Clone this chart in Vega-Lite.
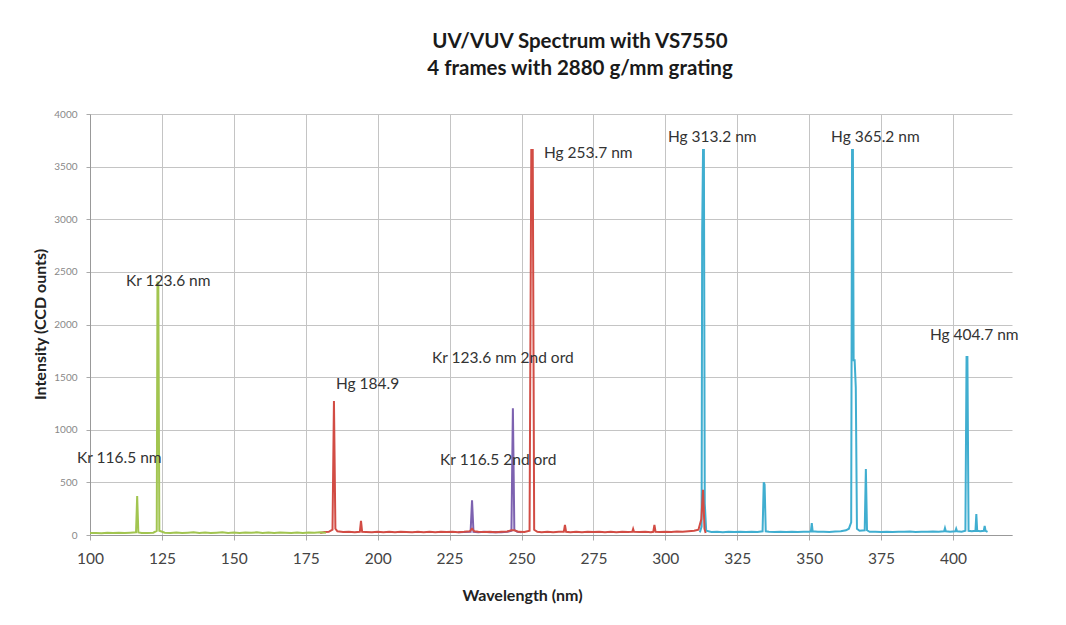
{
  "$schema": "https://vega.github.io/schema/vega-lite/v6.json",
  "width": 922,
  "height": 421,
  "autosize": {"type": "none"},
  "padding": {"left": 90, "top": 114, "right": 54, "bottom": 90},
  "background": "white",
  "config": {"view": {"stroke": null}, "font": "Lato"},
  "title": {
    "text": ["UV/VUV Spectrum with VS7550", "4 frames with 2880 g/mm grating"],
    "fontSize": 20.5, "fontWeight": "bold", "color": "#1a1a1a", "lineHeight": 27,
    "anchor": "middle", "dx": 29, "offset": 30, "font": "Lato"
  },
  "datasets": {
    "spec": [
      {"s":"A","x":100,"y":18},{"s":"A","x":102,"y":20},{"s":"A","x":104,"y":17},{"s":"A","x":106,"y":22},{"s":"A","x":108,"y":19},{"s":"A","x":110,"y":21},{"s":"A","x":112,"y":18},{"s":"A","x":114,"y":22},{"s":"A","x":116.0,"y":25},{"s":"A","x":116.4,"y":370},{"s":"A","x":116.8,"y":25},{"s":"A","x":118,"y":20},{"s":"A","x":120,"y":19},{"s":"A","x":122,"y":22},{"s":"A","x":123.2,"y":40},{"s":"A","x":123.45,"y":2400},{"s":"A","x":123.75,"y":2400},{"s":"A","x":124.1,"y":40},{"s":"A","x":126,"y":22},{"s":"A","x":128,"y":20},{"s":"A","x":130,"y":24},{"s":"A","x":132,"y":19},{"s":"A","x":134,"y":22},{"s":"A","x":136,"y":25},{"s":"A","x":138,"y":20},{"s":"A","x":140,"y":23},{"s":"A","x":142,"y":19},{"s":"A","x":144,"y":22},{"s":"A","x":146,"y":26},{"s":"A","x":148,"y":20},{"s":"A","x":150,"y":23},{"s":"A","x":152,"y":19},{"s":"A","x":154,"y":24},{"s":"A","x":156,"y":21},{"s":"A","x":158,"y":25},{"s":"A","x":160,"y":20},{"s":"A","x":162,"y":23},{"s":"A","x":164,"y":19},{"s":"A","x":166,"y":24},{"s":"A","x":168,"y":21},{"s":"A","x":170,"y":18},{"s":"A","x":172,"y":23},{"s":"A","x":174,"y":20},{"s":"A","x":176,"y":24},{"s":"A","x":178,"y":21},{"s":"A","x":180,"y":25},{"s":"A","x":182,"y":22},
      {"s":"B","x":180,"y":20},{"s":"B","x":181.5,"y":28},{"s":"B","x":183,"y":30},{"s":"B","x":184.3,"y":50},{"s":"B","x":184.8,"y":1273},{"s":"B","x":185.3,"y":60},{"s":"B","x":186,"y":35},{"s":"B","x":188,"y":28},{"s":"B","x":190,"y":30},{"s":"B","x":192,"y":26},{"s":"B","x":193.8,"y":30},{"s":"B","x":194.2,"y":135},{"s":"B","x":194.6,"y":30},{"s":"B","x":196,"y":28},{"s":"B","x":198,"y":25},{"s":"B","x":200,"y":30},{"s":"B","x":202,"y":27},{"s":"B","x":204,"y":32},{"s":"B","x":206,"y":26},{"s":"B","x":208,"y":30},{"s":"B","x":210,"y":28},{"s":"B","x":212,"y":25},{"s":"B","x":214,"y":30},{"s":"B","x":216,"y":27},{"s":"B","x":218,"y":31},{"s":"B","x":220,"y":26},{"s":"B","x":222,"y":30},{"s":"B","x":224,"y":28},{"s":"B","x":226,"y":32},{"s":"B","x":228,"y":27},{"s":"B","x":230,"y":30},{"s":"B","x":232,"y":35},{"s":"B","x":232.8,"y":60},{"s":"B","x":233.6,"y":35},{"s":"B","x":235,"y":30},{"s":"B","x":237,"y":28},{"s":"B","x":239,"y":31},{"s":"B","x":241,"y":27},{"s":"B","x":243,"y":30},{"s":"B","x":245,"y":33},{"s":"B","x":246.5,"y":45},{"s":"B","x":247.5,"y":45},{"s":"B","x":249,"y":30},{"s":"B","x":251,"y":28},{"s":"B","x":252.8,"y":40},{"s":"B","x":253.4,"y":3657},{"s":"B","x":253.9,"y":3657},{"s":"B","x":254.4,"y":50},{"s":"B","x":255.5,"y":30},{"s":"B","x":257,"y":27},{"s":"B","x":259,"y":30},{"s":"B","x":261,"y":26},{"s":"B","x":263,"y":30},{"s":"B","x":264.7,"y":30},{"s":"B","x":265.1,"y":95},{"s":"B","x":265.5,"y":30},{"s":"B","x":267,"y":27},{"s":"B","x":269,"y":31},{"s":"B","x":271,"y":26},{"s":"B","x":273,"y":30},{"s":"B","x":275,"y":28},{"s":"B","x":277,"y":32},{"s":"B","x":279,"y":27},{"s":"B","x":281,"y":30},{"s":"B","x":283,"y":26},{"s":"B","x":285,"y":31},{"s":"B","x":287,"y":28},{"s":"B","x":288.5,"y":30},{"s":"B","x":288.8,"y":57},{"s":"B","x":289.1,"y":30},{"s":"B","x":291,"y":28},{"s":"B","x":293,"y":31},{"s":"B","x":295,"y":27},{"s":"B","x":295.8,"y":30},{"s":"B","x":296.2,"y":95},{"s":"B","x":296.6,"y":30},{"s":"B","x":298,"y":28},{"s":"B","x":300,"y":32},{"s":"B","x":302,"y":29},{"s":"B","x":304,"y":33},{"s":"B","x":306,"y":30},{"s":"B","x":308,"y":35},{"s":"B","x":310,"y":40},{"s":"B","x":311.5,"y":50},{"s":"B","x":312.5,"y":150},{"s":"B","x":313.1,"y":430},{"s":"B","x":313.6,"y":60},{"s":"B","x":314,"y":20},
      {"s":"C","x":228,"y":25},{"s":"C","x":230,"y":28},{"s":"C","x":232.3,"y":30},{"s":"C","x":232.8,"y":330},{"s":"C","x":233.3,"y":30},{"s":"C","x":235,"y":27},{"s":"C","x":237,"y":30},{"s":"C","x":239,"y":26},{"s":"C","x":241,"y":29},{"s":"C","x":243,"y":27},{"s":"C","x":245,"y":30},{"s":"C","x":246.5,"y":40},{"s":"C","x":247.0,"y":1205},{"s":"C","x":247.5,"y":50},{"s":"C","x":248.5,"y":30},{"s":"C","x":250,"y":27},
      {"s":"D","x":312,"y":25},{"s":"D","x":312.6,"y":80},{"s":"D","x":312.8,"y":2880},{"s":"D","x":313.1,"y":3657},{"s":"D","x":313.4,"y":3657},{"s":"D","x":313.7,"y":300},{"s":"D","x":314.2,"y":40},{"s":"D","x":316,"y":28},{"s":"D","x":318,"y":30},{"s":"D","x":320,"y":27},{"s":"D","x":322,"y":31},{"s":"D","x":324,"y":28},{"s":"D","x":326,"y":32},{"s":"D","x":328,"y":29},{"s":"D","x":330,"y":30},{"s":"D","x":332,"y":28},{"s":"D","x":333.8,"y":35},{"s":"D","x":334.2,"y":500},{"s":"D","x":334.5,"y":480},{"s":"D","x":334.9,"y":35},{"s":"D","x":336,"y":30},{"s":"D","x":338,"y":28},{"s":"D","x":340,"y":32},{"s":"D","x":342,"y":29},{"s":"D","x":344,"y":31},{"s":"D","x":346,"y":28},{"s":"D","x":348,"y":30},{"s":"D","x":350,"y":32},{"s":"D","x":350.6,"y":35},{"s":"D","x":350.9,"y":114},{"s":"D","x":351.2,"y":35},{"s":"D","x":353,"y":30},{"s":"D","x":355,"y":32},{"s":"D","x":357,"y":29},{"s":"D","x":359,"y":33},{"s":"D","x":361,"y":35},{"s":"D","x":362.8,"y":45},{"s":"D","x":363.8,"y":60},{"s":"D","x":364.6,"y":120},{"s":"D","x":364.9,"y":3657},{"s":"D","x":365.2,"y":3657},{"s":"D","x":365.45,"y":1660},{"s":"D","x":365.8,"y":1660},{"s":"D","x":366.2,"y":1400},{"s":"D","x":366.6,"y":60},{"s":"D","x":367.5,"y":40},{"s":"D","x":369.3,"y":45},{"s":"D","x":369.7,"y":627},{"s":"D","x":370.1,"y":45},{"s":"D","x":371,"y":30},{"s":"D","x":373,"y":32},{"s":"D","x":375,"y":28},{"s":"D","x":377,"y":31},{"s":"D","x":379,"y":29},{"s":"D","x":381,"y":32},{"s":"D","x":383,"y":30},{"s":"D","x":385,"y":33},{"s":"D","x":387,"y":29},{"s":"D","x":389,"y":32},{"s":"D","x":391,"y":30},{"s":"D","x":393,"y":33},{"s":"D","x":395,"y":30},{"s":"D","x":396.9,"y":35},{"s":"D","x":397.2,"y":66},{"s":"D","x":397.5,"y":35},{"s":"D","x":399,"y":30},{"s":"D","x":400.8,"y":35},{"s":"D","x":401.1,"y":60},{"s":"D","x":401.4,"y":35},{"s":"D","x":403,"y":32},{"s":"D","x":404.3,"y":40},{"s":"D","x":404.7,"y":1691},{"s":"D","x":405.0,"y":1691},{"s":"D","x":405.4,"y":40},{"s":"D","x":406.5,"y":35},{"s":"D","x":407.8,"y":40},{"s":"D","x":408.1,"y":200},{"s":"D","x":408.4,"y":40},{"s":"D","x":409.5,"y":35},{"s":"D","x":410.7,"y":40},{"s":"D","x":411,"y":85},{"s":"D","x":411.3,"y":40},{"s":"D","x":412,"y":30}
    ],
    "notes": [
      {"t":"Kr 116.5 nm","x":95.5,"y":731},
      {"t":"Kr 123.6 nm","x":112.5,"y":2413},
      {"t":"Hg 184.9","x":185.5,"y":1435},
      {"t":"Kr 123.6 nm 2nd ord","x":218.9,"y":1681},
      {"t":"Kr 116.5 2nd ord","x":221.7,"y":712},
      {"t":"Hg 253.7 nm","x":257.8,"y":3629},
      {"t":"Hg 313.2 nm","x":300.9,"y":3781},
      {"t":"Hg 365.2 nm","x":357.6,"y":3781},
      {"t":"Hg 404.7 nm","x":392,"y":1900}
    ]
  },
  "encoding": {
    "x": {
      "field": "x", "type": "quantitative",
      "scale": {"domain": [100, 420.5], "nice": false, "zero": false},
      "axis": {
        "values": [100,125,150,175,200,225,250,275,300,325,350,375,400],
        "format": "d",
        "title": "Wavelength (nm)", "titleFontSize": 16, "titleFontWeight": "bold", "titleColor": "#222",
        "titleX": 432, "titleY": 60, "titleAlign": "center", "titleBaseline": "middle",
        "labelFontSize": 15.5, "labelColor": "#444", "labelPadding": 11, "labelFlush": false,
        "tickSize": 5, "tickColor": "#aaa", "domainColor": "#999", "gridColor": "#c4c4c4"
      }
    },
    "y": {
      "field": "y", "type": "quantitative",
      "scale": {"domain": [0, 4000], "nice": false},
      "axis": {
        "values": [0,500,1000,1500,2000,2500,3000,3500,4000],
        "format": "d",
        "title": "Intensity  (CCD ounts)", "titleFontSize": 16, "titleFontWeight": "bold", "titleColor": "#222",
        "titleX": -50, "titleY": 210, "titleAlign": "center", "titleBaseline": "middle", "titleAngle": 270,
        "labelFontSize": 10, "labelColor": "#888", "labelPadding": 9,
        "tickSize": 4, "tickColor": "#aaa", "domainColor": "#999", "gridColor": "#c4c4c4"
      }
    }
  },
  "layer": [
    {"data": {"name": "spec"}, "transform": [{"filter": "datum.s === 'D'"}], "mark": {"type": "line", "color": "#40aed0", "strokeWidth": 2}},
    {"data": {"name": "spec"}, "transform": [{"filter": "datum.s === 'C'"}], "mark": {"type": "line", "color": "#7d62b0", "strokeWidth": 2}},
    {"data": {"name": "spec"}, "transform": [{"filter": "datum.s === 'B'"}], "mark": {"type": "line", "color": "#d24c44", "strokeWidth": 2}},
    {"data": {"name": "spec"}, "transform": [{"filter": "datum.s === 'A'"}], "mark": {"type": "line", "color": "#a2c550", "strokeWidth": 2}},
    {"data": {"name": "notes"}, "mark": {"type": "text", "align": "left", "baseline": "middle", "fontSize": 15.5, "color": "#333"}, "encoding": {"text": {"field": "t"}}}
  ]
}
